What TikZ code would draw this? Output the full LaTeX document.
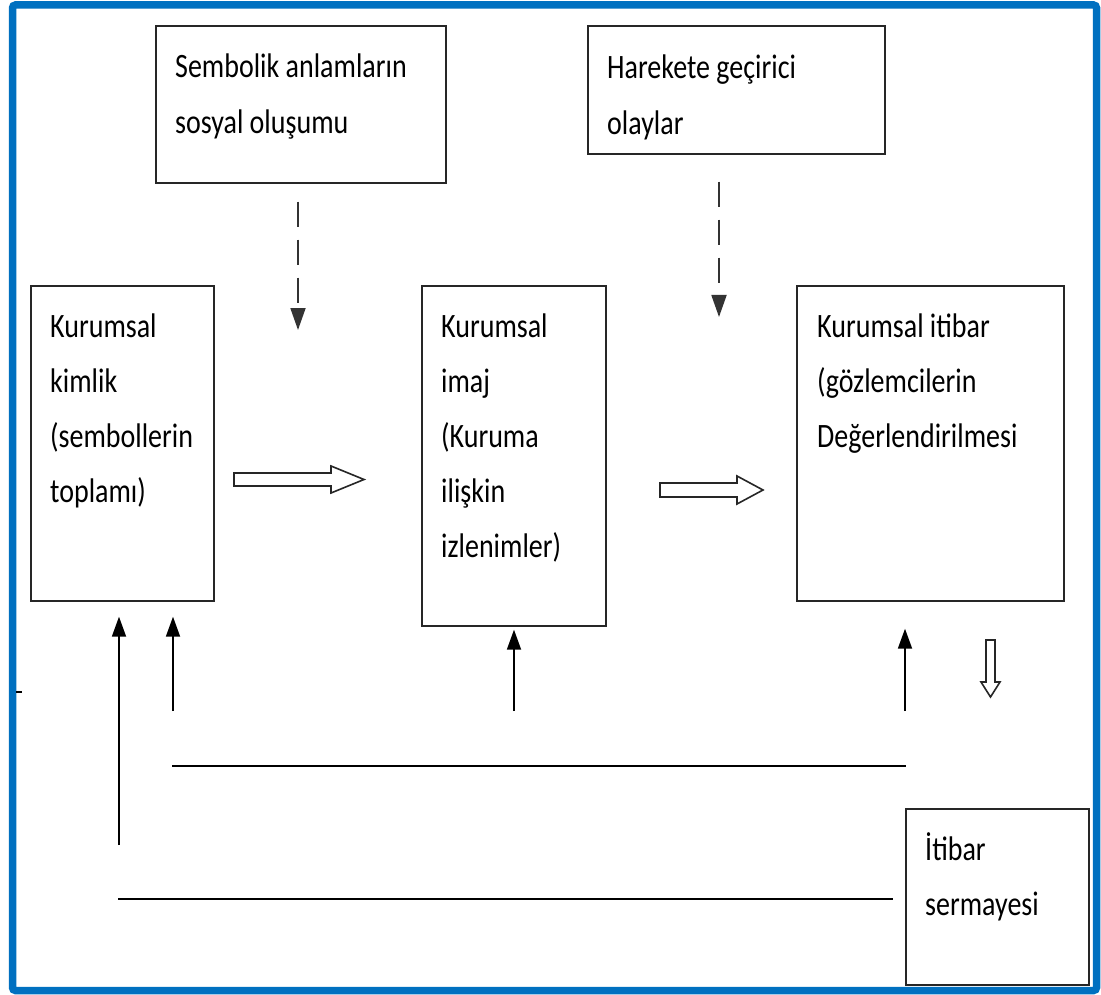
\documentclass[tikz,border=0pt]{standalone}
\usepackage{fontspec}
\setmainfont{Carlito}
\usepackage{graphicx}
\usetikzlibrary{arrows.meta}
\definecolor{framecol}{HTML}{0070C0}
\definecolor{ink}{HTML}{262626}
% multi-line box text: first row sits on the node's baseline
\newcommand\boxlines[1]{\scalebox{1}[1.22]{\fontsize{28}{45.2}\selectfont\begin{tabular}[t]{@{}l@{}}#1\end{tabular}}}
\tikzset{
  panel/.style={draw=ink, line width=1.7pt, inner sep=0pt, anchor=north west},
  boxtext/.style={anchor=base west, inner sep=0pt},
  feed/.style={draw=black, line width=1.8pt, -{Triangle[length=20pt,width=14pt]}},
  hint/.style={draw=black!80, line width=1.8pt, dash pattern=on 25pt off 13pt, -{Triangle[length=22pt,width=15pt]}},
  link/.style={draw=black, line width=1.8pt},
  fat/.style={draw=ink, line width=1.6pt, fill=white, line join=miter},
}
\begin{document}
\begin{tikzpicture}[x=1pt,y=-1pt]
\useasboundingbox (0,0) rectangle (1101,995);
\fill[white] (0,0) rectangle (1101,995);
\draw[framecol, line width=7.5pt, rounded corners=3pt] (12.5,5) rectangle (1096.5,990.5);

% boxes
\node[panel, minimum width=290pt, minimum height=157pt] (social) at (155,25) {};
\node[panel, minimum width=297pt, minimum height=128pt] (events) at (587,25) {};
\node[panel, minimum width=183pt, minimum height=315pt] (identity) at (30,285) {};
\node[panel, minimum width=184pt, minimum height=340pt] (image) at (421,285) {};
\node[panel, minimum width=267pt, minimum height=315pt] (reputation) at (796,285) {};
\node[panel, minimum width=183pt, minimum height=176pt] (capital) at (905,808) {};

% box texts
\node[boxtext] (socialtxt) at (175,78) {\boxlines{Sembolik anlamların\\sosyal oluşumu}};
\node[boxtext] (eventstxt) at (607,79) {\boxlines{Harekete geçirici\\olaylar}};
\node[boxtext] (identitytxt) at (50,337) {\boxlines{Kurumsal\\kimlik\\(sembollerin\\toplamı)}};
\node[boxtext] (imagetxt) at (441,337) {\boxlines{Kurumsal\\imaj\\(Kuruma\\ilişkin\\izlenimler)}};
\node[boxtext] (reputationtxt) at (817,337) {\boxlines{Kurumsal itibar\\(gözlemcilerin\\Değerlendirilmesi}};
\node[boxtext] (capitaltxt) at (925,860) {\boxlines{İtibar\\sermayesi}};

% dashed influences from the top boxes
\coordinate (h1) at (298,330);
\coordinate (h2) at (719,317);
\draw[hint, shorten <=18pt] (social.south -| h1) -- (h1);
\draw[hint, shorten <=27pt] (events.south -| h2) -- (h2);

% hollow block arrows
\draw[fat] (234,473) -- (331,473) -- (331,466) -- (364,479.5) -- (331,493) -- (331,486) -- (234,486) -- cycle;
\draw[fat] (660,483) -- (737,483) -- (737,476) -- (763,490) -- (737,504) -- (737,497) -- (660,497) -- cycle;
\draw[fat] (986,640) -- (995,640) -- (995,682) -- (1000,682) -- (990.5,697) -- (981,682) -- (986,682) -- cycle;

% feedback arrows
\coordinate (f1) at (119,845);
\coordinate (f2) at (173,711);
\coordinate (f3) at (514,711);
\coordinate (f4) at (905,711);
\draw[feed, shorten >=15pt] (f1) -- (f1 |- identity.south);
\draw[feed, shorten >=15pt] (f2) -- (f2 |- identity.south);
\draw[feed, shorten >=3pt] (f3) -- (f3 |- image.south);
\draw[feed, shorten >=27pt] (f4) -- (f4 |- reputation.south);

% feedback lines
\coordinate (r1) at (172,766);
\coordinate (r2) at (906,766);
\draw[link] (r1) -- (r2);
\coordinate (s1) at (118,899);
\draw[link] (s1) -- ([xshift=-12pt]capital.west |- s1);

% small tick by the left edge
\draw[line width=1.5pt] (16,692) -- (22,692);
\end{tikzpicture}
\end{document}
